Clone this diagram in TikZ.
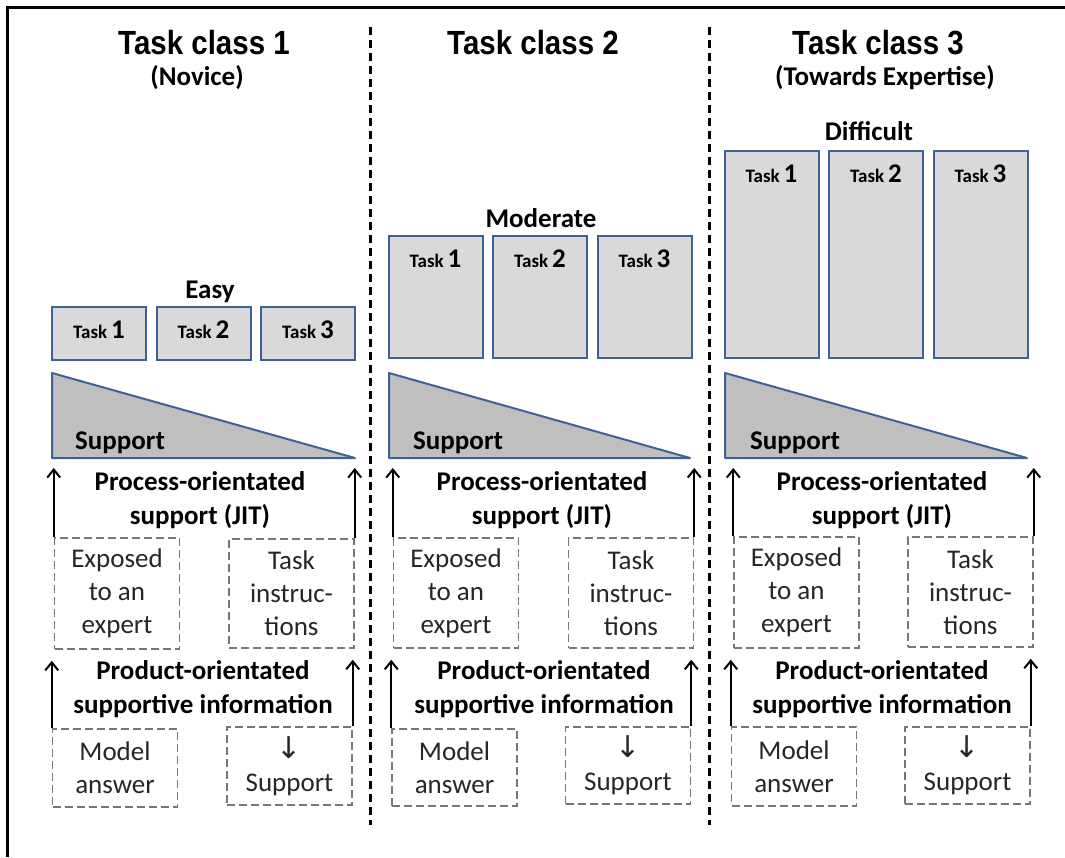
\documentclass[tikz,border=0pt]{standalone}
\usepackage{fontspec}
\setmainfont{Carlito}
\newfontfamily\headfont[FakeStretch=0.88]{Liberation Sans}
\newfontfamily\arrowfont{DejaVu Sans}
\usetikzlibrary{positioning, arrows.meta}
\definecolor{boxblue}{RGB}{62,98,148}
\definecolor{boxgray}{RGB}{217,217,217}
\definecolor{trigray}{RGB}{191,191,191}
\definecolor{dashgray}{RGB}{118,118,118}
\newcommand{\tasklbl}[1]{\bfseries{\fontsize{19}{20}\selectfont Task}\, {\fontsize{27}{28}\selectfont #1}}
\newcommand{\downsym}{{\arrowfont\fontsize{30}{33}\selectfont ↓}}
\tikzset{
	x=1pt, y=-1pt, % one unit is one pixel of the layout, y runs downwards
	node distance=10.5pt, % gap between two task boxes
	classtitle/.style={font=\headfont\bfseries\fontsize{33.5}{36}\selectfont}, % "Task class" headings
	boldtext/.style={font=\bfseries\fontsize{27}{34}\selectfont, align=center, inner sep=0pt},
	taskbox/.style={draw=boxblue, fill=boxgray, line width=2pt, minimum width=94pt, outer sep=0pt, anchor=north,
		label={[anchor=north, inner sep=0pt, yshift=-14pt]north:\tasklbl{#1}}}, % text sits near the top
	supporttri/.style={draw=boxblue, fill=trigray, line width=2pt, line join=round},
	infobox/.style={draw=dashgray, line width=1.5pt, dash pattern=on 8pt off 4pt, minimum width=125pt,
		align=center, inner sep=0pt, text=black!85, font=\fontsize{27}{33}\selectfont},
	uparrow/.style={-{Straight Barb[length=8pt, width=13pt]}, line width=2pt},
	divider/.style={line width=3pt, dash pattern=on 8pt off 5pt},
}

\begin{document}
\begin{tikzpicture}
	\useasboundingbox (0,0) rectangle (1065,857);
	% frame and column separators
	\draw[line width=3pt] (7,857) -- (7,7) -- (1065,7);
	\draw[divider] (370,27) -- (370,825);
	\draw[divider] (709,27) -- (709,825);

	% task class 1
	\node[classtitle] (c1) at (204,43) {Task class 1};
	\node[boldtext] (c1sub) at (197,78) {(Novice)};
	\node[boldtext] (lvl1) at (210,292) {Easy};
	\node[taskbox=1, minimum height=53pt] (t11) at (99,307) {};
	\node[taskbox=2, minimum height=53pt, right=of t11] (t12) {};
	\node[taskbox=3, minimum height=53pt, right=of t12] (t13) {};
	\coordinate (s1t) at (52,373);
	\coordinate (s1l) at (52,458);
	\coordinate (s1r) at (355,458);
	\filldraw[supporttri] (s1t) -- (s1l) -- (s1r) -- cycle;
	\node[boldtext, anchor=base west] (stxt1) at (75,449) {Support};
	\node[boldtext] (proc1) at (200,500) {Process-orientated\\support (JIT)};
	\node[infobox, minimum height=111pt] (ex1) at (117,593.5) {Exposed\\to an\\expert};
	\node[infobox, minimum height=109pt] (ins1) at (291.5,593.5) {Task\\instruc-\\tions};
	\node[boldtext] (prod1) at (203,689) {Product-orientated\\supportive information};
	\node[infobox, minimum height=78pt] (mod1) at (115,768) {Model\\answer};
	\node[infobox, minimum height=78pt] (dec1) at (289.5,766) {\downsym\\Support};

	\draw[uparrow, shorten >=10pt] (ex1.north west) -- (ex1.north west |- s1l);
	\draw[uparrow, shorten >=10pt] (ins1.north east) -- (ins1.north east |- s1r);
	\draw[uparrow, shorten >=11pt] (mod1.north west) -- (mod1.north west |- ex1.south);
	\draw[uparrow, shorten >=11pt] (dec1.north east) -- (dec1.north east |- ins1.south);

	% task class 2
	\node[classtitle] (c2) at (533,43) {Task class 2};
	\node[boldtext] (lvl2) at (541,218) {Moderate};
	\node[taskbox=1, minimum height=122pt] (t21) at (435.5,236) {};
	\node[taskbox=2, minimum height=122pt, right=of t21] (t22) {};
	\node[taskbox=3, minimum height=122pt, right=of t22] (t23) {};
	\coordinate (s2t) at (389,373);
	\coordinate (s2l) at (389,458);
	\coordinate (s2r) at (690,458);
	\filldraw[supporttri] (s2t) -- (s2l) -- (s2r) -- cycle;
	\node[boldtext, anchor=base west] (stxt2) at (413,449) {Support};
	\node[boldtext] (proc2) at (542,500) {Process-orientated\\support (JIT)};
	\node[infobox, minimum height=110pt] (ex2) at (456,593) {Exposed\\to an\\expert};
	\node[infobox, minimum height=110pt] (ins2) at (631,593) {Task\\instruc-\\tions};
	\node[boldtext] (prod2) at (544,689) {Product-orientated\\supportive information};
	\node[infobox, minimum height=77pt] (mod2) at (454.5,767.5) {Model\\answer};
	\node[infobox, minimum height=77pt] (dec2) at (628,765.5) {\downsym\\Support};

	\draw[uparrow, shorten >=10pt] (ex2.north west) -- (ex2.north west |- s2l);
	\draw[uparrow, shorten >=10pt] (ins2.north east) -- (ins2.north east |- s2r);
	\draw[uparrow, shorten >=11pt] (mod2.north west) -- (mod2.north west |- ex2.south);
	\draw[uparrow, shorten >=11pt] (dec2.north east) -- (dec2.north east |- ins2.south);

	% task class 3
	\node[classtitle] (c3) at (878,43) {Task class 3};
	\node[boldtext] (c3sub) at (885,78) {(Towards Expertise)};
	\node[boldtext] (lvl3) at (869,131) {Difficult};
	\node[taskbox=1, minimum height=207pt] (t31) at (771.5,151) {};
	\node[taskbox=2, minimum height=207pt, right=of t31] (t32) {};
	\node[taskbox=3, minimum height=207pt, right=of t32] (t33) {};
	\coordinate (s3t) at (725,373);
	\coordinate (s3l) at (725,458);
	\coordinate (s3r) at (1027,458);
	\filldraw[supporttri] (s3t) -- (s3l) -- (s3r) -- cycle;
	\node[boldtext, anchor=base west] (stxt3) at (750,449) {Support};
	\node[boldtext] (proc3) at (882,500) {Process-orientated\\support (JIT)};
	\node[infobox, minimum height=111pt] (ex3) at (796.5,592.5) {Exposed\\to an\\expert};
	\node[infobox, minimum height=110pt] (ins3) at (970.5,592) {Task\\instruc-\\tions};
	\node[boldtext] (prod3) at (882,689) {Product-orientated\\supportive information};
	\node[infobox, minimum height=79pt] (mod3) at (794,766.5) {Model\\answer};
	\node[infobox, minimum height=77pt] (dec3) at (967.5,765.5) {\downsym\\Support};

	\draw[uparrow, shorten >=10pt] (ex3.north west) -- (ex3.north west |- s3l);
	\draw[uparrow, shorten >=10pt] (ins3.north east) -- (ins3.north east |- s3r);
	\draw[uparrow, shorten >=11pt] (mod3.north west) -- (mod3.north west |- ex3.south);
	\draw[uparrow, shorten >=11pt] (dec3.north east) -- (dec3.north east |- ins3.south);
\end{tikzpicture}
\end{document}
